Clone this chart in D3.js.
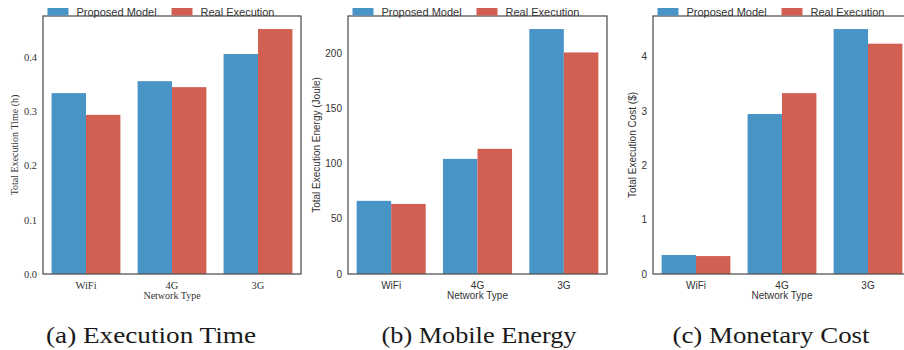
<!DOCTYPE html>
<html>
<head>
<meta charset="utf-8" />
<title>Network type comparison</title>
<script src="https://cdn.jsdelivr.net/npm/d3@7"></script>
<style>
    body { margin: 0; background: #fff; }
    svg { display: block; }
</style>
</head>
<body>
<svg id="CHART" width="904" height="350"></svg>
<script>
    // data
    var categories = ["WiFi", "4G", "3G"];
    var seriesNames = ["Proposed Model", "Real Execution"];
    var seriesColors = ["#4994c6", "#d15f52"];

    var timeProposed = [0.333, 0.355, 0.405];
    var timeReal = [0.293, 0.344, 0.451];
    var timeTicks = [0, 0.1, 0.2, 0.3, 0.4];

    var energyProposed = [66.2, 104.2, 221.7];
    var energyReal = [63.4, 113.3, 200.5];
    var energyTicks = [0, 50, 100, 150, 200];

    var costProposed = [0.35, 2.945, 4.51];
    var costReal = [0.33, 3.33, 4.24];
    var costTicks = [0, 1, 2, 3, 4];

    var captions = ["(a) Execution Time", "(b) Mobile Energy", "(c) Monetary Cost"];

    var SERIF = "'Liberation Serif', 'Times New Roman', serif";
    var SANS = "'Liberation Sans', Arial, sans-serif";

    var svg = d3.select("#CHART");
    var TOP = 16, BOTTOM = 274;

    function Panel(opt) {
        var g = svg.append("g");
        var x = d3.scaleBand().domain(categories).range([opt.left, opt.right])
            .paddingInner(0.2).paddingOuter(0.1);
        var xs = d3.scaleBand().domain(seriesNames).range([0, x.bandwidth()]);
        var y = d3.scaleLinear().domain([0, opt.max]).range([BOTTOM, TOP]);

        var rows = categories.map(function (c, i) {
            return { cat: c, vals: [opt.a[i], opt.b[i]] };
        });

        var grp = g.selectAll("g.cat").data(rows).enter().append("g")
            .attr("class", "cat")
            .attr("transform", function (d) { return "translate(" + x(d.cat) + ",0)"; });
        grp.selectAll("rect").data(function (d) {
            return d.vals.map(function (v, k) { return { s: seriesNames[k], v: v, k: k }; });
        }).enter().append("rect")
            .attr("x", function (d) { return xs(d.s); })
            .attr("width", xs.bandwidth())
            .attr("y", function (d) { return y(d.v); })
            .attr("height", function (d) { return BOTTOM - y(d.v); })
            .attr("fill", function (d) { return seriesColors[d.k]; });

        // axes, no tick marks (seaborn white style)
        var yAxis = d3.axisLeft(y).tickValues(opt.ticks).tickSize(0).tickPadding(6)
            .tickFormat(opt.fmt);
        var ya = g.append("g").attr("transform", "translate(" + opt.left + ",0)").call(yAxis);
        var xAxis = d3.axisBottom(x).tickSize(0).tickPadding(8);
        var xa = g.append("g").attr("transform", "translate(0," + BOTTOM + ")").call(xAxis);
        [ya, xa].forEach(function (a) {
            a.select(".domain").remove();
            a.selectAll("text").attr("font-family", opt.font).attr("font-size", opt.tickSize).attr("fill", "#333");
        });

        // frame
        g.append("rect")
            .attr("x", opt.left).attr("y", TOP)
            .attr("width", opt.right - opt.left).attr("height", BOTTOM - TOP)
            .attr("fill", "none").attr("stroke", "#555").attr("stroke-width", 1.3);

        g.append("text")
            .attr("x", (opt.left + opt.right) / 2).attr("y", 299)
            .attr("text-anchor", "middle")
            .attr("font-family", opt.font).attr("font-size", 10).attr("fill", "#333")
            .text("Network Type");

        g.append("text")
            .attr("transform", "translate(" + opt.labelX + "," + ((TOP + BOTTOM) / 2) + ") rotate(-90)")
            .attr("text-anchor", "middle")
            .attr("font-family", opt.font).attr("font-size", 10).attr("fill", "#333")
            .text(opt.label);

        // legend above the frame
        var lg = g.append("g").attr("transform", "translate(" + opt.left + ",0)");
        seriesNames.forEach(function (s, k) {
            var off = k * 124;
            lg.append("rect").attr("x", 4.5 + off).attr("y", 8)
                .attr("width", 21).attr("height", 7.5).attr("fill", seriesColors[k]);
            lg.append("text").attr("x", 33.5 + off).attr("y", 16)
                .attr("font-family", SANS).attr("font-size", 11).attr("fill", "#333")
                .text(s);
        });

        svg.append("text")
            .attr("x", opt.capX).attr("y", 343)
            .attr("text-anchor", "middle")
            .attr("font-family", SERIF).attr("font-size", 24).attr("fill", "#1a1a1a")
            .attr("textLength", opt.capW).attr("lengthAdjust", "spacingAndGlyphs")
            .text(opt.caption);
    }

    Panel({
        left: 43, right: 301, max: 0.475, a: timeProposed, b: timeReal, ticks: timeTicks,
        fmt: d3.format(".1f"), font: SERIF, tickSize: 10.5, label: "Total Execution Time (h)", labelX: 18,
        caption: captions[0], capX: 151, capW: 210
    });
    Panel({
        left: 348, right: 607, max: 233.5, a: energyProposed, b: energyReal, ticks: energyTicks,
        fmt: d3.format("d"), font: SANS, tickSize: 10, label: "Total Execution Energy (Joule)", labelX: 320,
        caption: captions[1], capX: 479, capW: 195
    });
    Panel({
        left: 653, right: 911, max: 4.75, a: costProposed, b: costReal, ticks: costTicks,
        fmt: d3.format("d"), font: SANS, tickSize: 10, label: "Total Execution Cost ($)", labelX: 636,
        caption: captions[2], capX: 771, capW: 197
    });
</script>
</body>
</html>
